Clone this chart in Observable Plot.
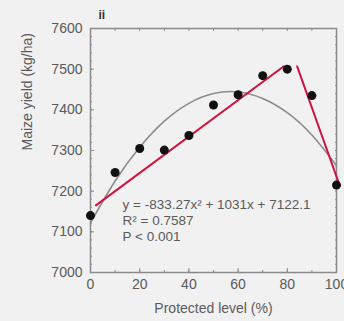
<!DOCTYPE html>
<html>
<head>
<meta charset="utf-8">
<script src="https://cdn.jsdelivr.net/npm/d3@7"></script>
<script src="https://cdn.jsdelivr.net/npm/@observablehq/plot@0.6"></script>
<style>
  html, body { margin: 0; padding: 0; background: #f1f1f1; }
  #chart svg { display: block; background: #f1f1f1; }
</style>
</head>
<body>
<div id="chart"></div>
<script>
// Observed points
const protectedLevel = [0, 10, 20, 30, 40, 50, 60, 70, 80, 90, 100];
const maizeYield = [7140, 7246, 7305, 7301, 7337, 7412, 7437, 7484, 7500, 7435, 7215];

// Fitted curve
const curveX = [0, 10, 20, 30, 40, 50, 60, 70, 80, 90, 100];
const curveY = [7122, 7225, 7308, 7372, 7416, 7440, 7444, 7428, 7393, 7338, 7263];

// Red segments (start/end)
const seg1X = [2.2, 78.6];
const seg1Y = [7165, 7507];
const seg2X = [84, 101.3];
const seg2Y = [7507, 7214];

// Tick values
const xTicks = [0, 20, 40, 60, 80, 100];
const yTicks = [7000, 7100, 7200, 7300, 7400, 7500, 7600];
const yMinor = d3.range(7000, 7601, 20);
const xMinor = d3.range(0, 101, 10);

// Texts
const panelLabel = "ii";
const xLabel = "Protected level (%)";
const yLabel = "Maize yield (kg/ha)";
const statLines = ["y = -833.27x\u00B2 + 1031x + 7122.1", "R\u00B2 = 0.7587", "P < 0.001"];

const points = protectedLevel.map((x, i) => ({x, y: maizeYield[i]}));
const curve = curveX.map((x, i) => ({x, y: curveY[i]}));
const s1 = seg1X.map((x, i) => ({x, y: seg1Y[i]}));
const s2 = seg2X.map((x, i) => ({x, y: seg2Y[i]}));

const axisColor = "#8a8a8a";
const textColor = "#5a5a5a";

const plot = Plot.plot({
  width: 344,
  height: 321,
  marginLeft: 90,
  marginRight: 8,
  marginTop: 28,
  marginBottom: 49,
  style: {fontFamily: "Liberation Sans, Arial, sans-serif", fontSize: "14px", background: "#f1f1f1", color: textColor},
  x: {domain: [0, 100]},
  y: {domain: [7000, 7600]},
  marks: [
    Plot.frame({stroke: axisColor, strokeWidth: 1.5}),
    // minor ticks
    Plot.axisY({ticks: yMinor, tickSize: -2, text: null, stroke: axisColor, label: null}),
    Plot.axisY({ticks: yMinor, anchor: "right", tickSize: -2, text: null, stroke: axisColor, label: null}),
    Plot.axisX({ticks: xMinor, tickSize: -2, text: null, stroke: axisColor, label: null}),
    Plot.axisX({ticks: xMinor, anchor: "top", tickSize: -2, text: null, stroke: axisColor, label: null}),
    // major ticks
    Plot.axisY({ticks: yTicks, tickSize: -4, text: null, stroke: axisColor, label: null}),
    Plot.axisX({ticks: xTicks, tickSize: -4, text: null, stroke: axisColor, label: null}),
    // tick labels
    Plot.axisY({ticks: yTicks, tickSize: 0, tickPadding: 8, tickFormat: d => String(d), label: null, fill: textColor, fontSize: 14}),
    Plot.axisX({ticks: xTicks, tickSize: 0, tickPadding: 7, tickFormat: d => String(d), label: null, fill: textColor, fontSize: 14}),
    // curve
    Plot.line(curve, {x: "x", y: "y", curve: "natural", stroke: "#8c8c8c", strokeWidth: 1.6}),
    // red segments
    Plot.line(s1, {x: "x", y: "y", stroke: "#d1123f", strokeWidth: 2}),
    Plot.line(s2, {x: "x", y: "y", stroke: "#d1123f", strokeWidth: 2}),
    // points
    Plot.dot(points, {x: "x", y: "y", r: 4.5, fill: "#111", stroke: "none"}),
    // stats
    ...statLines.map((t, i) => Plot.text([t], {frameAnchor: "bottom-left", text: d => d, dx: 32, dy: -68 + i * 16, fill: textColor, fontSize: 13.5, textAnchor: "start", lineAnchor: "middle"})),
    // labels
    Plot.text([xLabel], {frameAnchor: "bottom", text: d => d, dy: 36, fill: textColor, fontSize: 14, lineAnchor: "middle"}),
    Plot.text([yLabel], {frameAnchor: "left", text: d => d, dx: -63, rotate: -90, fill: textColor, fontSize: 14, lineAnchor: "middle"}),
    Plot.text([panelLabel], {frameAnchor: "top-left", text: d => d, dx: 8, dy: -13, fill: "#333", fontSize: 12, fontWeight: "bold", lineAnchor: "middle"})
  ]
});
document.getElementById("chart").appendChild(plot);
</script>
</body>
</html>
